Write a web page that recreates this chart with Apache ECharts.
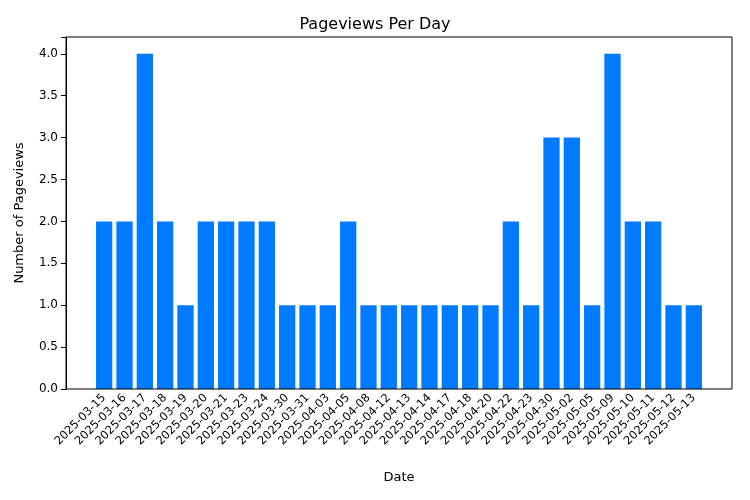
<!DOCTYPE html>
<html>
<head>
<meta charset="utf-8">
<title>Pageviews Per Day</title>
<script src="https://cdn.jsdelivr.net/npm/echarts@6.0.0/dist/echarts.min.js"></script>
<style>
  body { margin: 0; background: #fff; }
  #chart { width: 750px; height: 500px; }
</style>
</head>
<body>
<div id="chart"></div>
<script>
const dates = ['2025-03-15','2025-03-16','2025-03-17','2025-03-18','2025-03-19','2025-03-20','2025-03-21','2025-03-23','2025-03-24','2025-03-30',
  '2025-03-31','2025-04-03','2025-04-05','2025-04-08','2025-04-12','2025-04-13','2025-04-14','2025-04-17','2025-04-18','2025-04-20',
  '2025-04-22','2025-04-23','2025-04-30','2025-05-02','2025-05-05','2025-05-09','2025-05-10','2025-05-11','2025-05-12','2025-05-13'];
const pageviews = [2,2,4,2,1,2,2,2,2,1, 1,1,2,1,1,1,1,1,1,1, 2,1,3,3,1,4,2,2,1,1];
const yTicks = { min: 0, max: 4.2, interval: 0.5 };

const chart = echarts.init(document.getElementById('chart'));
const font = 'DejaVu Sans';
chart.setOption({
  animation: false,
  textStyle: { fontFamily: font },
  title: { text: 'Pageviews Per Day', left: 'center', top: 12,
    textStyle: { fontFamily: font, fontSize: 16, fontWeight: 'normal', color: '#000' } },
  grid: [
    { left: 94, right: 46, top: 37, bottom: 111 },
    { left: 66, right: 18, top: 37, bottom: 111, show: true, borderColor: '#000', borderWidth: 1, z: 5 }
  ],
  xAxis: [{
    type: 'category', data: dates, gridIndex: 0, name: 'Date', nameLocation: 'middle', nameGap: 82,
    nameTextStyle: { fontSize: 13, color: '#000' },
    axisLine: { show: false },
    axisTick: { alignWithLabel: true, lineStyle: { color: '#000' } },
    axisLabel: { rotate: 45, interval: 0, fontSize: 11.5, color: '#000', margin: 7 }
  }, { type: 'value', gridIndex: 1, show: false }],
  yAxis: [{
    type: 'value', gridIndex: 1, min: yTicks.min, max: yTicks.max, interval: yTicks.interval,
    name: 'Number of Pageviews', nameLocation: 'middle', nameGap: 40,
    nameTextStyle: { fontSize: 13, color: '#000' },
    splitLine: { show: false },
    axisLine: { show: true, lineStyle: { color: '#000' } },
    axisTick: { show: true, lineStyle: { color: '#000' } },
    axisLabel: { fontSize: 12, color: '#000', formatter: v => v > 4.01 ? '' : v.toFixed(1) }
  }, {
    type: 'value', gridIndex: 0, min: yTicks.min, max: yTicks.max, show: false
  }],
  series: [{ type: 'bar', xAxisIndex: 0, yAxisIndex: 1, data: pageviews, barWidth: '80%', itemStyle: { color: '#007bff' } }]
});
</script>
</body>
</html>
